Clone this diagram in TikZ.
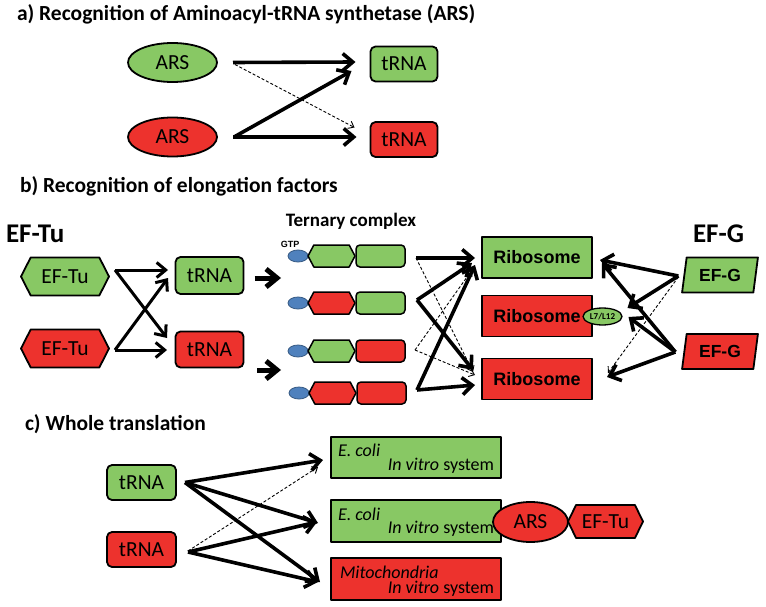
\documentclass[tikz,border=0pt]{standalone}
\usepackage{fontspec}
\setmainfont{Carlito}
\newfontfamily\arialf{Liberation Sans}
\usetikzlibrary{shapes.geometric,shapes.symbols,shapes.misc,arrows.meta,calc}
\definecolor{gfill}{RGB}{136,200,100}
\definecolor{rfill}{RGB}{237,50,45}
\definecolor{bfill}{RGB}{79,129,189}
\begin{document}
\begin{tikzpicture}[x=1pt,y=-1pt,line join=round,
  every node/.style={inner sep=0pt,outer sep=0pt},
  bx/.style={draw=black,line width=1.8pt},
  nt/.style={font=\fontsize{21.5}{24}\selectfont},
  ttl/.style={font=\fontsize{21.5}{24}\selectfont\bfseries,anchor=base west},
  hd/.style={font=\fontsize{27}{30}\selectfont\bfseries,anchor=base west},
  ellnode/.style={bx,ellipse,minimum width=89pt,minimum height=39pt,nt},
  trnabox/.style={bx,rectangle,rounded corners=5pt,minimum width=67pt,minimum height=35pt,nt},
  hexnode/.style={bx,signal,signal to=west and east,signal pointer angle=126,minimum width=88pt,minimum height=38pt,nt},
  gtp/.style={draw=bfill!70!black,line width=0.8pt,fill=bfill,ellipse,minimum width=20pt,minimum height=12pt},
  thex/.style={bx,line width=1.5pt,signal,signal to=west and east,signal pointer angle=124,minimum width=47pt,minimum height=22pt},
  trect/.style={bx,line width=1.5pt,rectangle,rounded corners=4pt,minimum width=49pt,minimum height=22pt},
  ribo/.style={bx,rectangle,minimum width=110pt,minimum height=41pt,font=\arialf\bfseries\fontsize{18}{20}\selectfont},
  pgram/.style={bx,trapezium,trapezium left angle=77,trapezium right angle=103,trapezium stretches=true,minimum width=76pt,minimum height=35pt,font=\arialf\bfseries\fontsize{17.5}{20}\selectfont},
  sysbox/.style={bx,chamfered rectangle,chamfered rectangle corners=north east,chamfered rectangle xsep=5pt,chamfered rectangle ysep=5pt,minimum width=170pt,minimum height=41pt},
  systxt/.style={font=\fontsize{18}{20}\selectfont},
  arr/.style={line width=3.6pt,-{Straight Barb[length=10pt,width=17pt]}},
  arrm/.style={line width=3pt,-{Straight Barb[length=9pt,width=15pt]}},
  darr/.style={line width=0.9pt,dash pattern=on 3pt off 2pt,-{Straight Barb[length=5pt,width=8pt]}},
  chev/.style={line width=5pt,-{Straight Barb[length=11pt,width=18pt]}}
]
\useasboundingbox[fill=white] (0,0) rectangle (766,607);

% ---------- a ----------
\node[ttl] (ta) at (17,21) {a) Recognition of Aminoacyl-tRNA synthetase (ARS)};
\node[ellnode,fill=gfill] (arsG) at (172.5,62.5) {ARS};
\node[ellnode,fill=rfill] (arsR) at (172.5,137) {ARS};
\node[trnabox,fill=gfill] (aTG) at (404,64) {tRNA};
\node[trnabox,fill=rfill] (aTR) at (404,139.5) {tRNA};
\draw[arr] ($(arsG.east)+(16,0)$) -- ($(aTG.west)+(-15,-2)$);
\draw[arr] ($(arsR.east)+(16,0)$) -- ($(aTR.west)+(-14,-2.5)$);
\draw[arr] ($(arsR.east)+(17,0)$) -- ($(aTG.west)+(-19,7)$);
\draw[darr] ($(arsG.east)+(18,2)$) -- ($(aTR.west)+(-16,-12)$);

% ---------- b ----------
\node[ttl] (tb) at (20,193) {b) Recognition of elongation factors};
\node[hd] (hTu) at (6,242) {EF-Tu};
\node[hd] (hG) at (693,242) {EF-G};
\node[hexnode,fill=gfill] (tuG) at (65,276.5) {EF-Tu};
\node[hexnode,fill=rfill] (tuR) at (65,348.5) {EF-Tu};
\node[trnabox,fill=gfill,minimum width=68pt,minimum height=37pt] (bTG) at (209.5,275.5) {tRNA};
\node[trnabox,fill=rfill,minimum width=68pt,minimum height=36pt] (bTR) at (209.5,349.5) {tRNA};
\draw[arrm] ($(tuG.east)+(6,-6.5)$) -- ($(bTG.west)+(-7.5,-5.5)$);
\draw[arrm] ($(tuG.east)+(6,-6.5)$) -- ($(bTR.west)+(-8.5,-11.5)$);
\draw[arrm] ($(tuR.east)+(6,1.5)$) -- ($(bTR.west)+(-8.5,0.5)$);
\draw[arrm] ($(tuR.east)+(6,1.5)$) -- ($(bTG.west)+(-7.5,2.5)$);
\draw[chev] ($(bTG.east)+(11,2.5)$) -- ($(bTG.east)+(37.5,2.5)$);
\draw[chev] ($(bTR.east)+(13.5,20.5)$) -- ($(bTR.east)+(37.5,20.5)$);

\node[font=\bfseries\fontsize{19}{22}\selectfont] (tern) at (351,221) {Ternary complex};
\node[font=\arialf\bfseries\fontsize{9}{10}\selectfont] (gtpl) at (290,244) {GTP};
\node[gtp] (g1) at (298,256) {};
\node[thex,fill=gfill] (h1) at (331.5,256) {};
\node[trect,fill=gfill] (r1) at (380.5,256) {};
\node[gtp] (g2) at (298,303) {};
\node[thex,fill=rfill] (h2) at (331.5,303) {};
\node[trect,fill=gfill] (r2) at (380.5,303) {};
\node[gtp] (g3) at (298,351) {};
\node[thex,fill=gfill] (h3) at (331.5,351) {};
\node[trect,fill=rfill] (r3) at (380.5,351) {};
\node[gtp] (g4) at (299,393) {};
\node[thex,fill=rfill] (h4) at (332.5,393) {};
\node[trect,fill=rfill] (r4) at (381.5,393) {};

\node[ribo,fill=gfill] (ribG) at (537,257.5) {Ribosome};
\node[ribo,fill=rfill] (ribM) at (537,316) {Ribosome};
\node[ribo,fill=rfill] (ribB) at (537,379) {Ribosome};
\node[bx,line width=1.3pt,ellipse,fill=gfill,minimum width=39pt,minimum height=17pt,font=\bfseries\fontsize{9}{10}\selectfont] (L7) at (602.5,316.5) {L7/L12};

\draw[arr] ($(r1.east)+(11,2)$) -- ($(ribG.west)+(-7,0.5)$);
\draw[darr] ($(r1.east)+(11,2)$) -- ($(ribB.west)+(-9,-7)$);
\draw[arr] ($(r2.east)+(12,-3)$) -- ($(ribG.west)+(-10,5.5)$);
\draw[arr] ($(r2.east)+(12,-3)$) -- ($(ribB.west)+(-9,-9)$);
\draw[darr] ($(r3.east)+(10,-1)$) -- ($(ribG.west)+(-10,12.5)$);
\draw[darr] ($(r3.east)+(10,-1)$) -- ($(ribB.west)+(-7,-4)$);
\draw[arr] ($(r4.east)+(11,-3)$) -- ($(ribG.west)+(-7,7.5)$);
\draw[arr] ($(r4.east)+(11,-3)$) -- ($(ribB.west)+(-7,6)$);

\node[pgram,fill=gfill] (efG) at (720,275) {EF-G};
\node[pgram,fill=rfill] (efR) at (720,351.5) {EF-G};
\draw[arr] ($(efG.west)+(-6,1)$) -- ($(ribG.east)+(8,2.5)$);
\draw[arr] ($(efG.west)+(-6,1)$) -- ($(L7.east)+(5.5,-8.5)$);
\draw[darr] ($(efG.west)+(-6,2)$) -- ($(ribB.east)+(16,-6)$);
\draw[arr] ($(efR.west)+(-9,0.5)$) -- ($(ribG.east)+(10,5.5)$);
\draw[arr] ($(efR.west)+(-9,0.5)$) -- ($(L7.east)+(6.5,0.5)$);
\draw[arr] ($(efR.west)+(-9,0.5)$) -- ($(ribB.east)+(15,-2)$);

% ---------- c ----------
\node[ttl] (tc) at (25,430) {c) Whole translation};
\node[trnabox,fill=gfill,minimum width=69pt] (cTG) at (141.5,482.5) {tRNA};
\node[trnabox,fill=rfill,minimum width=69pt] (cTR) at (141.5,549.5) {tRNA};

\node[sysbox,fill=gfill] (sA) at (416,457.5) {};
\node[systxt,anchor=base west] (sA1) at (338,456) {\textit{E. coli}};
\node[systxt,anchor=base east] (sA2) at (494,470) {\textit{In vitro} system};
\node[sysbox,fill=gfill,minimum height=42pt] (sB) at (416,521) {};
\node[systxt,anchor=base west] (sB1) at (338,520) {\textit{E. coli}};
\node[systxt,anchor=base east] (sB2) at (494,533.5) {\textit{In vitro} system};
\node[ellnode,fill=rfill,minimum width=75pt,minimum height=40pt] (cA) at (530.5,522) {ARS};
\node[hexnode,fill=rfill,minimum width=75pt,minimum height=33pt,signal pointer angle=128] (cTu) at (605.5,521.5) {EF-Tu};
\node[sysbox,fill=rfill,minimum height=42pt] (sC) at (416,579) {};
\node[systxt,anchor=base west] (sC1) at (340,578) {\textit{Mitochondria}};
\node[systxt,anchor=base east] (sC2) at (494,593) {\textit{In vitro} system};

\draw[arr] ($(cTG.east)+(9,0)$) -- ($(sA.west)+(-8,2.5)$);
\draw[arr] ($(cTG.east)+(9,0)$) -- ($(sB.west)+(-13,2)$);
\draw[arr] ($(cTG.east)+(9,0)$) -- ($(sC.west)+(-11,3)$);
\draw[arr] ($(cTR.east)+(12,2.5)$) -- ($(sB.west)+(-14,1)$);
\draw[arr] ($(cTR.east)+(12,2.5)$) -- ($(sC.west)+(-13,3)$);
\draw[darr] ($(cTR.east)+(12,1.5)$) -- ($(sA.west)+(-13,9.5)$);
\end{tikzpicture}
\end{document}
